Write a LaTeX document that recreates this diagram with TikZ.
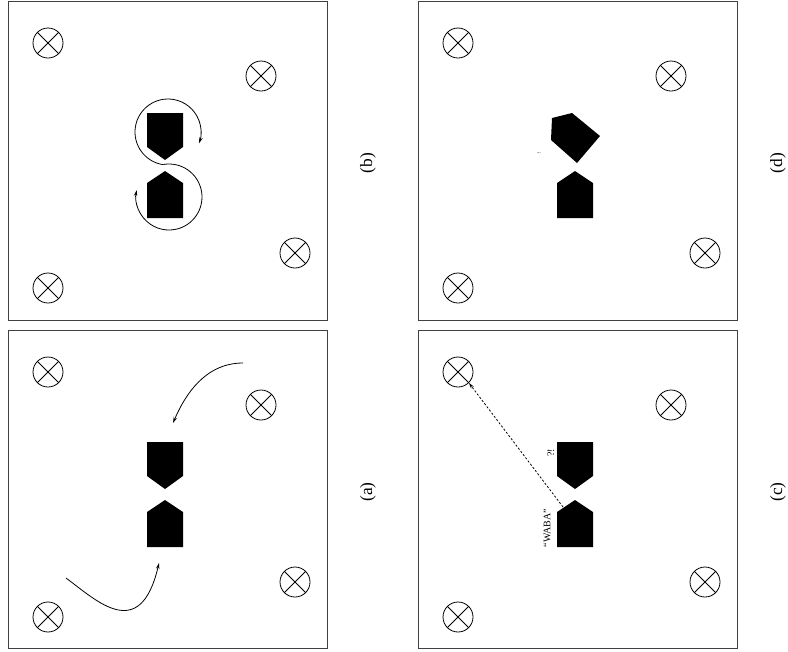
\documentclass[tikz,border=0pt]{standalone}
\usepackage{fontspec}
\setmainfont{Liberation Serif}
\usetikzlibrary{arrows.meta}
\begin{document}
\begin{tikzpicture}[x=0.75pt,y=-0.75pt,
  panel/.style={draw=black!75,line width=0.75pt},
  lamp/.style={draw,circle,line width=0.6pt,minimum size=22.5pt,inner sep=0pt},
  robot/.style={fill=black},
  sublabel/.style={font=\fontsize{13}{15}\selectfont,rotate=90},
  move/.style={line width=0.6pt,-{Stealth[length=4.5pt,width=2.6pt]}},
  talk/.style={line width=0.6pt,dash pattern=on 1.6pt off 1.4pt,-{Stealth[length=4.5pt,width=2.6pt]}},
  small/.style={font=\fontsize{7.5}{8}\selectfont,rotate=90,inner sep=0pt}]
\useasboundingbox (0,0) rectangle (788,651);
\newcommand{\lamps}[1]{%
  \node[lamp] (#1l1) at (40,42) {};
  \node[lamp] (#1l2) at (253,75) {};
  \node[lamp] (#1l3) at (287,252) {};
  \node[lamp] (#1l4) at (40,287) {};
  \foreach \i in {1,2,3,4}{
    \draw[line width=0.6pt] (#1l\i.north west) -- (#1l\i.south east)
                            (#1l\i.north east) -- (#1l\i.south west);}
}
% panel (a)
\begin{scope}[shift={(8,330)}]
  \draw[panel] (0,0) rectangle (319,318);
  \lamps{a}
  \fill[robot] (139,112) -- (175,112) -- (175,146) -- (157,159) -- (139,146) -- cycle;
  \fill[robot] (157,170) -- (175,182) -- (175,217) -- (139,217) -- (139,182) -- cycle;
  \coordinate (as1) at (235,33); \coordinate (ae1) at (165,93);
  \coordinate (as2) at (58,248); \coordinate (ae2) at (151,233);
  \draw[move] (as1) .. controls (197,33) and (177,65) .. (ae1);
  \draw[move] (as2) .. controls (88,270) and (132,314) .. (ae2);
\end{scope}
\node[sublabel] (capa) at (368,492) {(a)};
% panel (b)
\begin{scope}[shift={(8,1)}]
  \draw[panel] (0,0) rectangle (319,319);
  \lamps{b}
  \fill[robot] (139,112) -- (175,112) -- (175,146) -- (157,159) -- (139,146) -- cycle;
  \fill[robot] (157,170) -- (175,182) -- (175,217) -- (139,217) -- (139,182) -- cycle;
  \coordinate (bc1) at (160,131); \coordinate (bc2) at (161,196);
  \draw[move] ([shift={(99:33)}]bc1) arc[start angle=99,end angle=380,radius=33];
  \draw[move] ([shift={(-100:33)}]bc2) arc[start angle=-100,end angle=192,radius=33];
\end{scope}
\node[sublabel] (capb) at (368,163) {(b)};
% panel (c)
\begin{scope}[shift={(418,330)}]
  \draw[panel] (0,0) rectangle (319,318);
  \lamps{c}
  \fill[robot] (139,112) -- (175,112) -- (175,146) -- (157,159) -- (139,146) -- cycle;
  \fill[robot] (157,170) -- (175,182) -- (175,217) -- (139,217) -- (139,182) -- cycle;
  \coordinate (cs) at (145,177);
  \draw[talk] (cs) -- (cl1.south east);
  \node[small] (waba) at (129,198) {``WABA''};
  \node[small] (qq) at (133,123) {?!};
\end{scope}
\node[sublabel] (capc) at (778,492) {(c)};
% panel (d)
\begin{scope}[shift={(418,1)}]
  \draw[panel] (0,0) rectangle (319,319);
  \lamps{d}
  \fill[robot] (134,117) -- (154,112) -- (182,135) -- (159,162) -- (133,139) -- cycle;
  \fill[robot] (157,170) -- (175,182) -- (175,217) -- (139,217) -- (139,182) -- cycle;
  \node[font=\fontsize{3.5}{4}\selectfont,rotate=90,inner sep=0pt] (bang) at (121,152) {!};
\end{scope}
\node[sublabel] (capd) at (778,163) {(d)};
\end{tikzpicture}
\end{document}
